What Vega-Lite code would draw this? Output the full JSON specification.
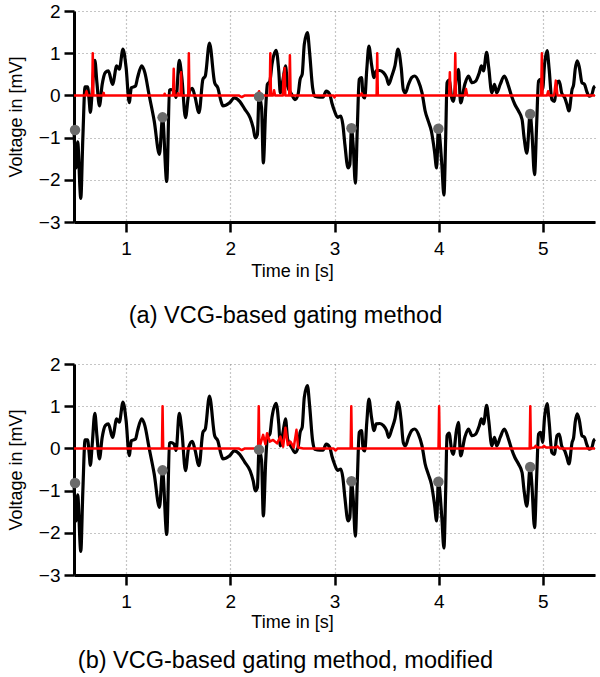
{
  "$schema": "https://vega.github.io/schema/vega-lite/v6.json",
  "padding": {"left": 7, "top": 2, "right": 0, "bottom": 0},
  "spacing": 27,
  "config": {
    "font": "Liberation Sans",
    "view": {"stroke": null},
    "axis": {
      "domainColor": "black", "domainWidth": 3, "tickColor": "black", "tickWidth": 2.5,
      "tickSize": 10, "labelFontSize": 19, "labelColor": "black", "titleFontSize": 18,
      "titleFontWeight": "normal", "titleColor": "black", "grid": true, "gridDash": [1, 3],
      "gridColor": "#8c8c8c", "gridWidth": 1.2
    },
    "title": {"fontSize": 23.5, "fontWeight": "normal", "color": "black", "font": "Liberation Sans"}
  },
  "datasets": {
    "ecg": [
      {"t": 0.50, "v": -0.8}, {"t": 0.52, "v": -1.72}, {"t": 0.535, "v": -1.1}, {"t": 0.565, "v": -2.44},
      {"t": 0.585, "v": -1.0}, {"t": 0.606, "v": 0.2}, {"t": 0.63, "v": 0.2}, {"t": 0.645, "v": -0.1},
      {"t": 0.657, "v": -0.4}, {"t": 0.675, "v": 0.1}, {"t": 0.70, "v": 0.83}, {"t": 0.72, "v": 0.3},
      {"t": 0.744, "v": -0.25}, {"t": 0.77, "v": 0.25}, {"t": 0.80, "v": 0.54}, {"t": 0.83, "v": 0.58},
      {"t": 0.87, "v": 0.26}, {"t": 0.91, "v": 0.70}, {"t": 0.935, "v": 0.62}, {"t": 0.97, "v": 1.10},
      {"t": 1.00, "v": 0.66}, {"t": 1.03, "v": -0.17}, {"t": 1.05, "v": 0.18}, {"t": 1.09, "v": 0.22},
      {"t": 1.11, "v": 0.42}, {"t": 1.15, "v": 0.70}, {"t": 1.18, "v": 0.54}, {"t": 1.22, "v": 0.02},
      {"t": 1.27, "v": -0.61}, {"t": 1.32, "v": -1.40}, {"t": 1.35, "v": -0.53}, {"t": 1.39, "v": -2.04},
      {"t": 1.417, "v": 0.12}, {"t": 1.43, "v": 0.14}, {"t": 1.46, "v": 0.10}, {"t": 1.48, "v": -0.05},
      {"t": 1.51, "v": 0.83}, {"t": 1.535, "v": 0.42}, {"t": 1.57, "v": -0.53}, {"t": 1.60, "v": 0.02},
      {"t": 1.635, "v": 0.17}, {"t": 1.66, "v": -0.02}, {"t": 1.70, "v": -0.41}, {"t": 1.737, "v": 0.38},
      {"t": 1.76, "v": 0.46}, {"t": 1.80, "v": 1.24}, {"t": 1.85, "v": 0.30}, {"t": 1.88, "v": 0.18},
      {"t": 1.91, "v": -0.13}, {"t": 1.93, "v": -0.25}, {"t": 1.99, "v": -0.18}, {"t": 2.04, "v": -0.06},
      {"t": 2.09, "v": -0.14}, {"t": 2.14, "v": -0.33}, {"t": 2.19, "v": -0.53}, {"t": 2.22, "v": -0.77},
      {"t": 2.24, "v": -1.01}, {"t": 2.26, "v": -0.93}, {"t": 2.276, "v": -0.02}, {"t": 2.30, "v": -0.29},
      {"t": 2.317, "v": -1.60}, {"t": 2.34, "v": -0.29}, {"t": 2.356, "v": 0.26}, {"t": 2.38, "v": 0.34},
      {"t": 2.40, "v": 0.74}, {"t": 2.44, "v": 1.07}, {"t": 2.465, "v": 0.58}, {"t": 2.48, "v": 0.06},
      {"t": 2.506, "v": 0.38}, {"t": 2.53, "v": 0.70}, {"t": 2.55, "v": 0.22}, {"t": 2.59, "v": 0.02},
      {"t": 2.62, "v": -0.10}, {"t": 2.65, "v": 0.02}, {"t": 2.67, "v": 0.38}, {"t": 2.69, "v": 0.50},
      {"t": 2.71, "v": 1.21}, {"t": 2.74, "v": 1.49}, {"t": 2.76, "v": 1.05}, {"t": 2.79, "v": 0.18},
      {"t": 2.81, "v": -0.02}, {"t": 2.86, "v": -0.04}, {"t": 2.89, "v": -0.04}, {"t": 2.92, "v": 0.10},
      {"t": 2.955, "v": 0.02}, {"t": 2.975, "v": -0.18}, {"t": 3.00, "v": -0.37}, {"t": 3.03, "v": -0.52},
      {"t": 3.06, "v": -0.49}, {"t": 3.08, "v": -0.69}, {"t": 3.10, "v": -1.17}, {"t": 3.13, "v": -1.72},
      {"t": 3.147, "v": -1.64}, {"t": 3.163, "v": -0.79}, {"t": 3.18, "v": -1.21}, {"t": 3.20, "v": -2.08},
      {"t": 3.22, "v": -0.69}, {"t": 3.237, "v": 0.38}, {"t": 3.26, "v": 0.42}, {"t": 3.275, "v": -0.02},
      {"t": 3.29, "v": -0.06}, {"t": 3.31, "v": 0.62}, {"t": 3.33, "v": 1.17}, {"t": 3.355, "v": 0.74},
      {"t": 3.38, "v": 0.42}, {"t": 3.40, "v": 0.58}, {"t": 3.435, "v": 0.59}, {"t": 3.47, "v": 0.54},
      {"t": 3.50, "v": 0.42}, {"t": 3.52, "v": 0.26}, {"t": 3.55, "v": 0.46}, {"t": 3.58, "v": 0.70},
      {"t": 3.61, "v": 1.10}, {"t": 3.64, "v": 0.66}, {"t": 3.66, "v": 0.14}, {"t": 3.68, "v": 0.06},
      {"t": 3.71, "v": 0.26}, {"t": 3.74, "v": 0.42}, {"t": 3.77, "v": 0.46}, {"t": 3.805, "v": 0.34},
      {"t": 3.84, "v": 0.06}, {"t": 3.87, "v": -0.37}, {"t": 3.90, "v": -0.61}, {"t": 3.93, "v": -0.85},
      {"t": 3.96, "v": -1.33}, {"t": 3.98, "v": -1.72}, {"t": 3.997, "v": -0.79}, {"t": 4.03, "v": -1.64},
      {"t": 4.05, "v": -2.36}, {"t": 4.067, "v": -1.01}, {"t": 4.08, "v": 0.30}, {"t": 4.10, "v": 0.36},
      {"t": 4.125, "v": -0.06}, {"t": 4.14, "v": -0.14}, {"t": 4.17, "v": 0.42}, {"t": 4.19, "v": 0.62},
      {"t": 4.21, "v": -0.18}, {"t": 4.25, "v": 0.26}, {"t": 4.285, "v": 0.46}, {"t": 4.32, "v": 0.30},
      {"t": 4.355, "v": 0.34}, {"t": 4.39, "v": 0.54}, {"t": 4.41, "v": 0.70}, {"t": 4.43, "v": 0.58},
      {"t": 4.46, "v": 1.02}, {"t": 4.48, "v": 0.66}, {"t": 4.51, "v": 0.06}, {"t": 4.535, "v": 0.26},
      {"t": 4.557, "v": 0.06}, {"t": 4.59, "v": 0.26}, {"t": 4.63, "v": 0.46}, {"t": 4.67, "v": 0.22},
      {"t": 4.70, "v": -0.02}, {"t": 4.73, "v": -0.21}, {"t": 4.766, "v": -0.37}, {"t": 4.80, "v": -0.57},
      {"t": 4.82, "v": -1.01}, {"t": 4.846, "v": -1.37}, {"t": 4.878, "v": -0.44}, {"t": 4.894, "v": -0.85},
      {"t": 4.92, "v": -1.88}, {"t": 4.94, "v": -0.69}, {"t": 4.958, "v": 0.34}, {"t": 4.98, "v": 0.38},
      {"t": 4.997, "v": 0.14}, {"t": 5.016, "v": 0.74}, {"t": 5.04, "v": 1.06}, {"t": 5.06, "v": 0.62},
      {"t": 5.086, "v": -0.10}, {"t": 5.11, "v": -0.14}, {"t": 5.135, "v": 0.30}, {"t": 5.157, "v": 0.34},
      {"t": 5.18, "v": 0.06}, {"t": 5.21, "v": -0.06}, {"t": 5.23, "v": -0.21}, {"t": 5.25, "v": -0.37},
      {"t": 5.28, "v": 0.14}, {"t": 5.295, "v": 0.26}, {"t": 5.31, "v": 0.62}, {"t": 5.33, "v": 0.82},
      {"t": 5.35, "v": 0.66}, {"t": 5.375, "v": 0.30}, {"t": 5.40, "v": 0.26}, {"t": 5.42, "v": 0.10},
      {"t": 5.445, "v": -0.02}, {"t": 5.47, "v": 0.02}, {"t": 5.487, "v": 0.18}, {"t": 5.50, "v": 0.22}
    ],
    "gate_a": [
      {"t": 0.50, "v": 0}, {"t": 0.61, "v": 0}, {"t": 0.62, "v": 0.1}, {"t": 0.63, "v": 0},
      {"t": 0.674, "v": 0}, {"t": 0.68, "v": 1.0}, {"t": 0.686, "v": 0},
      {"t": 0.78, "v": 0}, {"t": 0.785, "v": 0.06}, {"t": 0.79, "v": 0},
      {"t": 1.365, "v": 0}, {"t": 1.37, "v": 0.04}, {"t": 1.375, "v": 0},
      {"t": 1.45, "v": 0}, {"t": 1.457, "v": 0.63}, {"t": 1.464, "v": 0},
      {"t": 1.492, "v": 0}, {"t": 1.497, "v": 0.05}, {"t": 1.502, "v": 0},
      {"t": 1.522, "v": 0}, {"t": 1.528, "v": 0.55}, {"t": 1.534, "v": 0},
      {"t": 1.596, "v": 0}, {"t": 1.602, "v": 1.0}, {"t": 1.608, "v": 0},
      {"t": 2.08, "v": 0}, {"t": 2.11, "v": -0.04}, {"t": 2.14, "v": 0},
      {"t": 2.26, "v": 0}, {"t": 2.276, "v": 0.1}, {"t": 2.29, "v": 0},
      {"t": 2.378, "v": 0}, {"t": 2.384, "v": 1.0}, {"t": 2.39, "v": 0},
      {"t": 2.41, "v": 0}, {"t": 2.42, "v": 0.12}, {"t": 2.43, "v": 0},
      {"t": 2.505, "v": 0}, {"t": 2.511, "v": 0.5}, {"t": 2.516, "v": 0.2}, {"t": 2.521, "v": 0.65}, {"t": 2.528, "v": 0},
      {"t": 2.565, "v": 0}, {"t": 2.572, "v": 0.95}, {"t": 2.579, "v": 0},
      {"t": 2.99, "v": 0}, {"t": 3.0, "v": -0.05}, {"t": 3.01, "v": 0},
      {"t": 3.25, "v": 0}, {"t": 3.26, "v": 0.05}, {"t": 3.27, "v": 0},
      {"t": 3.404, "v": 0}, {"t": 3.41, "v": 1.0}, {"t": 3.416, "v": 0},
      {"t": 4.10, "v": 0}, {"t": 4.107, "v": 0.55}, {"t": 4.114, "v": 0},
      {"t": 4.152, "v": 0}, {"t": 4.159, "v": 1.0}, {"t": 4.166, "v": 0},
      {"t": 4.25, "v": 0}, {"t": 4.262, "v": 0.15}, {"t": 4.274, "v": 0},
      {"t": 4.983, "v": 0}, {"t": 4.99, "v": 1.0}, {"t": 4.997, "v": 0},
      {"t": 5.04, "v": 0}, {"t": 5.05, "v": 0.1}, {"t": 5.06, "v": 0},
      {"t": 5.108, "v": 0}, {"t": 5.124, "v": 0.35}, {"t": 5.14, "v": 0},
      {"t": 5.50, "v": 0}
    ],
    "gate_b": [
      {"t": 0.50, "v": 0},
      {"t": 1.344, "v": 0}, {"t": 1.35, "v": 1.0}, {"t": 1.356, "v": 0},
      {"t": 2.08, "v": 0}, {"t": 2.11, "v": -0.04}, {"t": 2.14, "v": 0},
      {"t": 2.267, "v": 0}, {"t": 2.273, "v": 1.0}, {"t": 2.279, "v": 0},
      {"t": 2.289, "v": 0.1}, {"t": 2.315, "v": 0.32}, {"t": 2.337, "v": 0.1}, {"t": 2.353, "v": 0.36},
      {"t": 2.379, "v": 0.16}, {"t": 2.411, "v": 0.2}, {"t": 2.449, "v": 0.12}, {"t": 2.481, "v": 0.28},
      {"t": 2.507, "v": 0.04}, {"t": 2.529, "v": 0.49}, {"t": 2.552, "v": 0.08}, {"t": 2.577, "v": 0.16},
      {"t": 2.609, "v": 0.02}, {"t": 2.635, "v": 0.44}, {"t": 2.651, "v": 0.02}, {"t": 2.70, "v": 0},
      {"t": 2.99, "v": 0}, {"t": 3.01, "v": -0.05}, {"t": 3.03, "v": 0},
      {"t": 3.155, "v": 0}, {"t": 3.161, "v": 1.0}, {"t": 3.167, "v": 0},
      {"t": 3.998, "v": 0}, {"t": 4.004, "v": 1.0}, {"t": 4.01, "v": 0},
      {"t": 4.873, "v": 0}, {"t": 4.879, "v": 1.0}, {"t": 4.885, "v": 0},
      {"t": 4.92, "v": 0.02}, {"t": 4.93, "v": 0.06}, {"t": 4.95, "v": 0.02}, {"t": 5.0, "v": 0.03},
      {"t": 5.01, "v": 0.06}, {"t": 5.03, "v": 0.02}, {"t": 5.13, "v": 0.02}, {"t": 5.14, "v": 0.05},
      {"t": 5.16, "v": 0}, {"t": 5.50, "v": 0}
    ],
    "rpk": [
      {"t": 0.51, "v": -0.82}, {"t": 1.35, "v": -0.52}, {"t": 2.276, "v": -0.03},
      {"t": 3.163, "v": -0.78}, {"t": 3.997, "v": -0.79}, {"t": 4.878, "v": -0.44}
    ]
  },
  "vconcat": [
    {
      "width": 521, "height": 211,
      "title": {"text": "(a) VCG-based gating method", "orient": "bottom", "offset": 24, "dx": -49},
      "layer": [
        {
          "data": {"name": "ecg"},
          "mark": {"type": "line", "color": "black", "strokeWidth": 3.2, "interpolate": "monotone", "strokeJoin": "round"},
          "encoding": {
            "x": {"field": "t", "type": "quantitative", "scale": {"domain": [0.5, 5.5], "nice": false},
                  "axis": {"values": [1, 2, 3, 4, 5], "format": "d", "title": "Time in [s]", "labelPadding": 7, "titlePadding": 4, "titleX": 218}},
            "y": {"field": "v", "type": "quantitative", "scale": {"domain": [-3, 2], "nice": false},
                  "axis": {"values": [-3, -2, -1, 0, 1, 2], "format": "d", "title": "Voltage in [mV]", "labelPadding": 4, "titlePadding": 13}}
          }
        },
        {
          "data": {"name": "gate_a"},
          "mark": {"type": "line", "color": "#ff0000", "strokeWidth": 2.5, "strokeJoin": "round"},
          "encoding": {"x": {"field": "t", "type": "quantitative"}, "y": {"field": "v", "type": "quantitative"}}
        },
        {
          "data": {"name": "rpk"},
          "mark": {"type": "circle", "color": "#6b6b6b", "size": 110, "opacity": 1},
          "encoding": {"x": {"field": "t", "type": "quantitative"}, "y": {"field": "v", "type": "quantitative"}}
        }
      ]
    },
    {
      "width": 521, "height": 211,
      "title": {"text": "(b) VCG-based gating method, modified", "orient": "bottom", "offset": 18, "dx": -49},
      "layer": [
        {
          "data": {"name": "ecg"},
          "mark": {"type": "line", "color": "black", "strokeWidth": 3.2, "interpolate": "monotone", "strokeJoin": "round"},
          "encoding": {
            "x": {"field": "t", "type": "quantitative", "scale": {"domain": [0.5, 5.5], "nice": false},
                  "axis": {"values": [1, 2, 3, 4, 5], "format": "d", "title": "Time in [s]", "labelPadding": 7, "titlePadding": 2, "titleX": 218}},
            "y": {"field": "v", "type": "quantitative", "scale": {"domain": [-3, 2], "nice": false},
                  "axis": {"values": [-3, -2, -1, 0, 1, 2], "format": "d", "title": "Voltage in [mV]", "labelPadding": 4, "titlePadding": 13}}
          }
        },
        {
          "data": {"name": "gate_b"},
          "mark": {"type": "line", "color": "#ff0000", "strokeWidth": 2.5, "strokeJoin": "round"},
          "encoding": {"x": {"field": "t", "type": "quantitative"}, "y": {"field": "v", "type": "quantitative"}}
        },
        {
          "data": {"name": "rpk"},
          "mark": {"type": "circle", "color": "#6b6b6b", "size": 110, "opacity": 1},
          "encoding": {"x": {"field": "t", "type": "quantitative"}, "y": {"field": "v", "type": "quantitative"}}
        }
      ]
    }
  ]
}
